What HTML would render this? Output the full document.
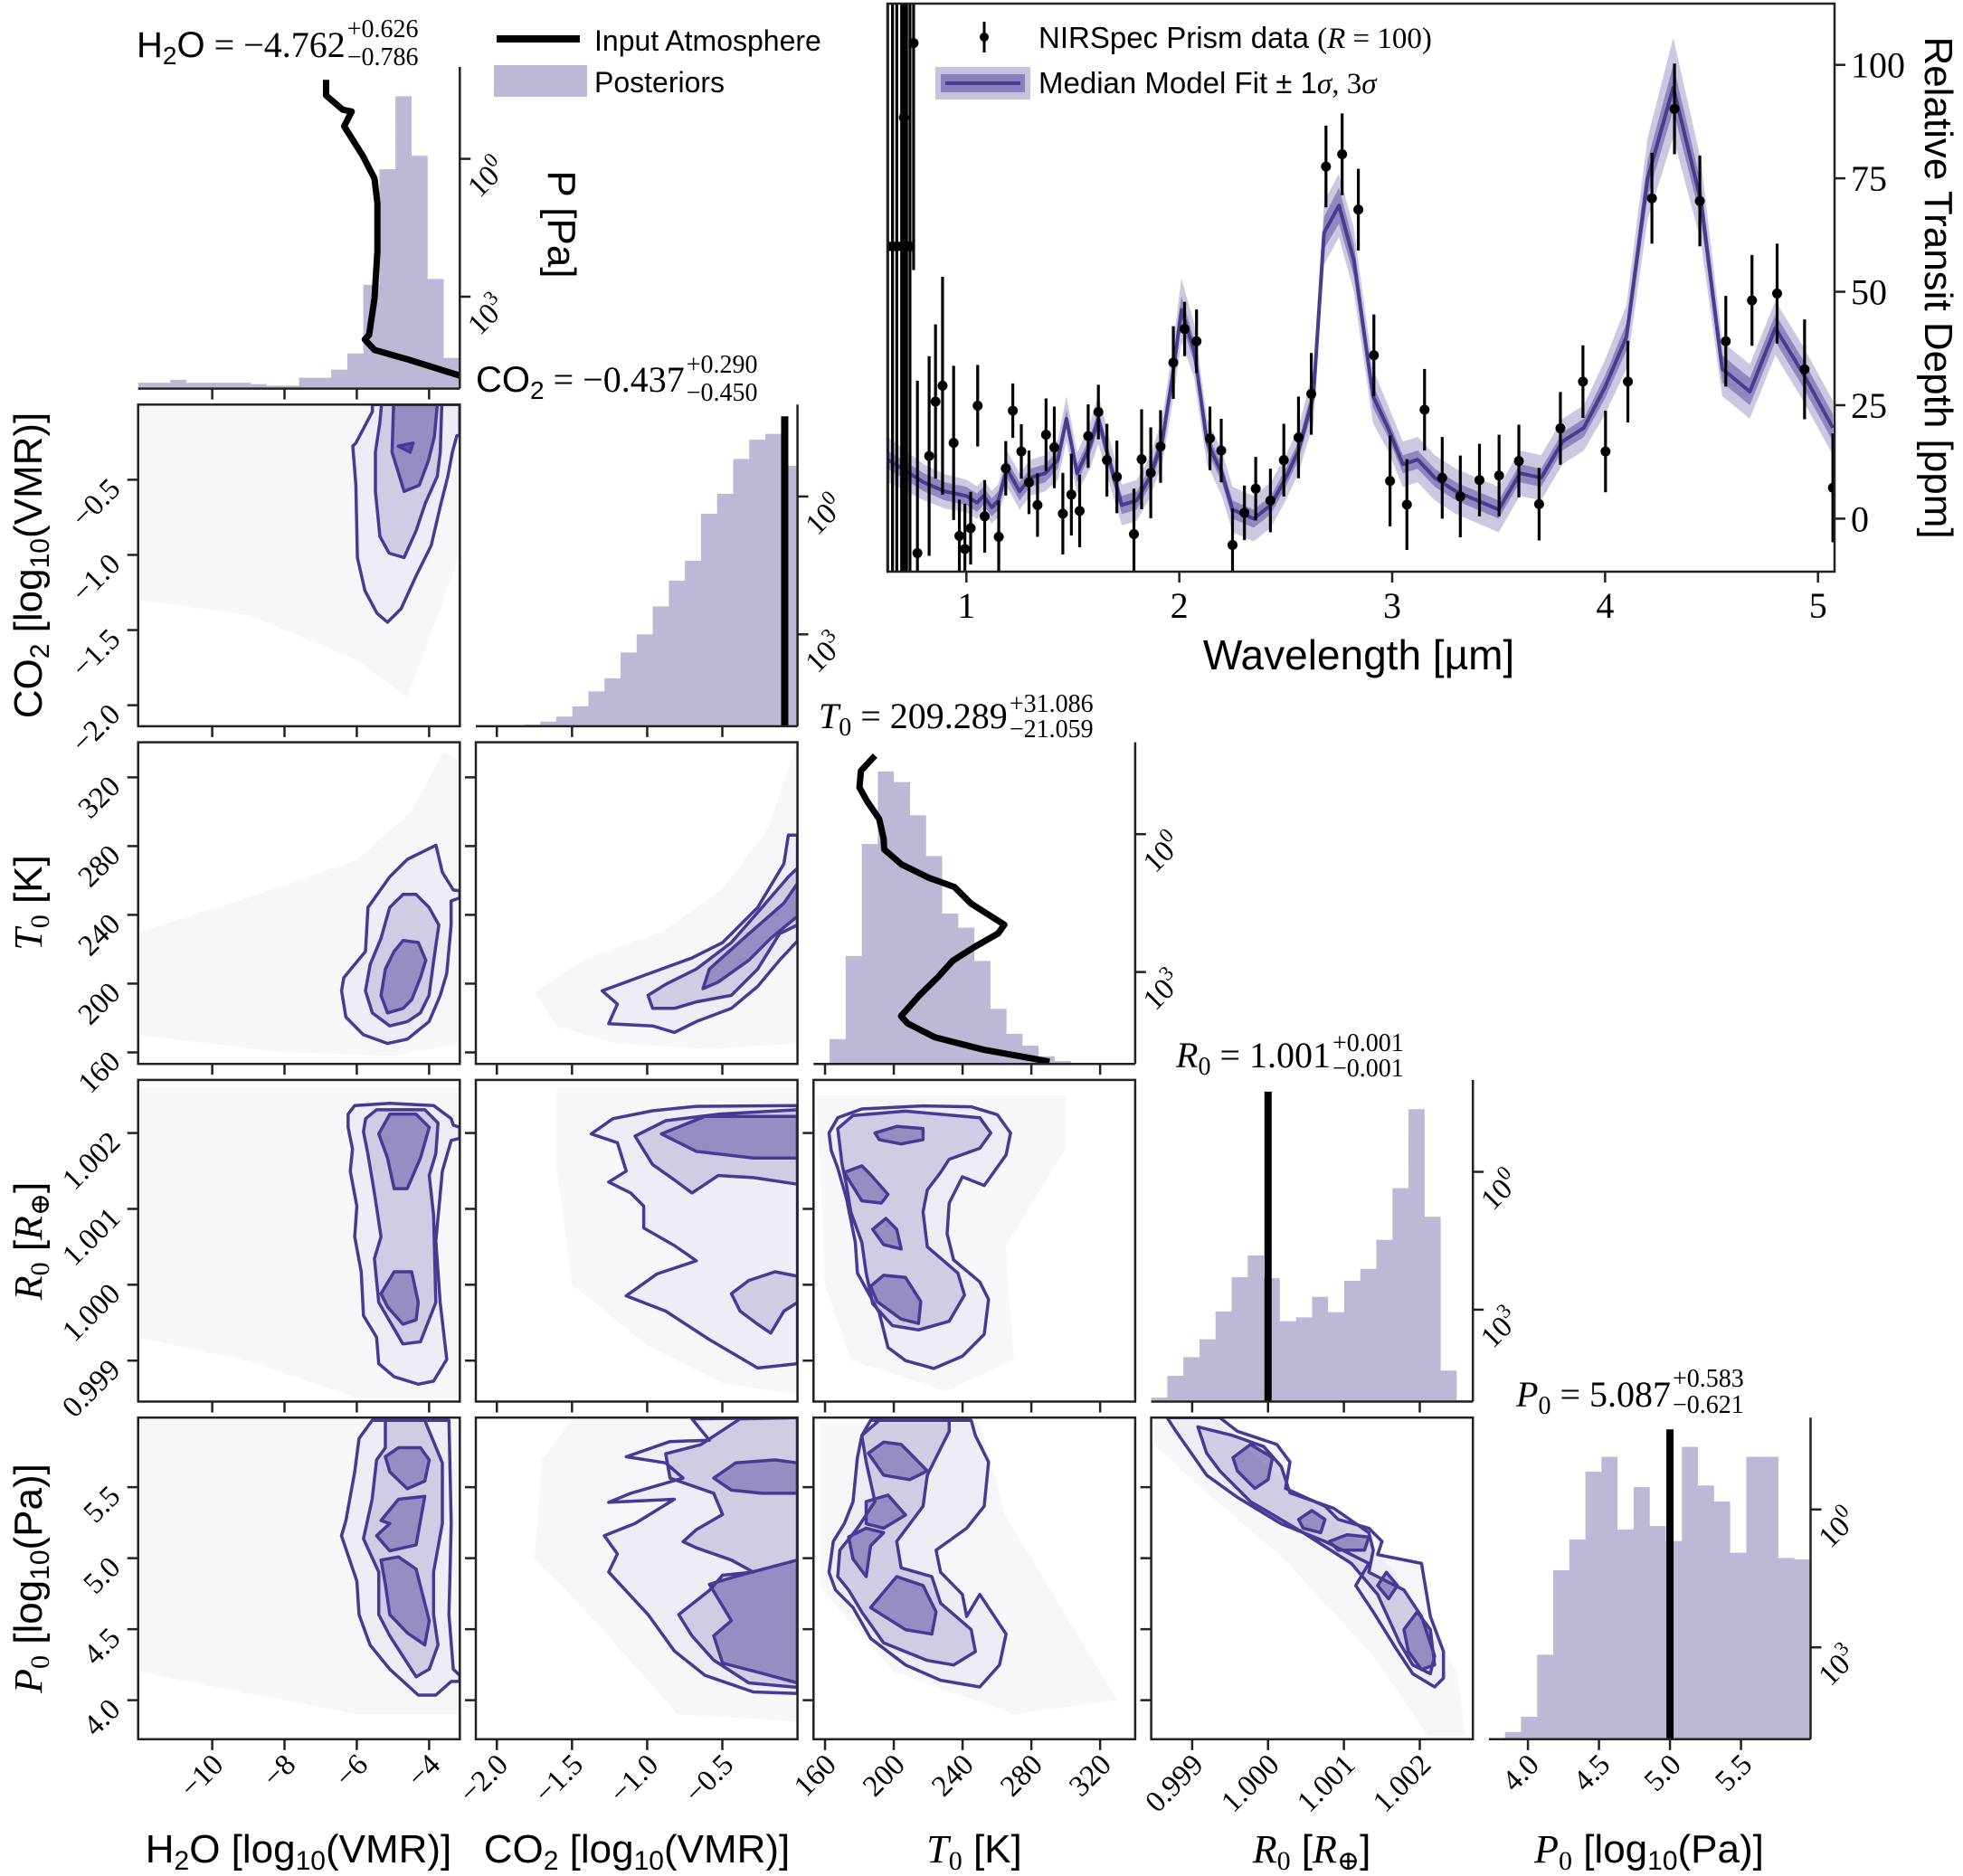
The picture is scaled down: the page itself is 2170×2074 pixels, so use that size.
<!DOCTYPE html>
<html><head><meta charset="utf-8">
<style>
html,body{margin:0;padding:0;background:#fff;}
svg{display:block;}
.sans{font-family:"Liberation Sans","DejaVu Sans",sans-serif;}
.serif{font-family:"Liberation Serif","DejaVu Serif",serif;}
</style></head>
<body>
<svg id="fig" xmlns="http://www.w3.org/2000/svg" width="2170" height="2074" viewBox="0 0 2170 2074">
<rect x="0" y="0" width="2170" height="2074" fill="#fff"/>
<g>
<line x1="549" y1="43" x2="641" y2="43" stroke="#000" stroke-width="8"/>
<text x="657" y="56" class="sans" font-size="32">Input Atmosphere</text>
<rect x="546" y="72" width="103" height="35" fill="#bcb8d6"/>
<text x="657" y="102" class="sans" font-size="32">Posteriors</text>
</g>
<text transform="translate(606,248) rotate(90)" text-anchor="middle" class="sans" font-size="44">P [Pa]</text>
<g>
<text id="main-h2o" x="151" y="63" font-size="40"><tspan class="sans">H<tspan font-size="28" dy="8">2</tspan><tspan dy="-8">O</tspan></tspan><tspan class="serif"> = −4.762</tspan></text>
<text id="sup-h2o" x="415" y="41" class="serif" font-size="28">+0.626</text><text id="sub-h2o" x="415" y="72" class="serif" font-size="28">−0.786</text></g>
<g>
<text id="main-co2" x="526" y="433" font-size="40"><tspan class="sans">CO<tspan font-size="28" dy="8">2</tspan></tspan><tspan class="serif" dy="-8"> = −0.437</tspan></text>
<text id="sup-co2" x="740" y="412" class="serif" font-size="28">+0.290</text><text id="sub-co2" x="740" y="443" class="serif" font-size="28">−0.450</text></g>
<g>
<text id="main-t0" x="905" y="805" font-size="40" class="serif"><tspan font-style="italic">T</tspan><tspan font-size="28" dy="8">0</tspan><tspan dy="-8"> = 209.289</tspan></text>
<text id="sup-t0" x="1140" y="787" class="serif" font-size="28">+31.086</text><text id="sub-t0" x="1140" y="815" class="serif" font-size="28">−21.059</text></g>
<g>
<text id="main-r0" x="1300" y="1180" font-size="40" class="serif"><tspan font-style="italic">R</tspan><tspan font-size="28" dy="8">0</tspan><tspan dy="-8"> = 1.001</tspan></text>
<text id="sup-r0" x="1502" y="1162" class="serif" font-size="28">+0.001</text><text id="sub-r0" x="1502" y="1190" class="serif" font-size="28">−0.001</text></g>
<g>
<text id="main-p0" x="1676" y="1555" font-size="40" class="serif"><tspan font-style="italic">P</tspan><tspan font-size="28" dy="8">0</tspan><tspan dy="-8"> = 5.087</tspan></text>
<text id="sup-p0" x="1873" y="1533" class="serif" font-size="28">+0.583</text><text id="sub-p0" x="1873" y="1562" class="serif" font-size="28">−0.621</text></g>
<text x="330" y="2059" text-anchor="middle" class="sans" font-size="44">H<tspan font-size="30" dy="8">2</tspan><tspan dy="-8">O [log</tspan><tspan font-size="30" dy="8">10</tspan><tspan dy="-8">(VMR)]</tspan></text>
<text x="704" y="2059" text-anchor="middle" class="sans" font-size="44">CO<tspan font-size="30" dy="8">2</tspan><tspan dy="-8"> [log</tspan><tspan font-size="30" dy="8">10</tspan><tspan dy="-8">(VMR)]</tspan></text>
<text x="1077" y="2059" text-anchor="middle" font-size="44"><tspan class="serif" font-style="italic">T</tspan><tspan class="serif" font-size="30" dy="8">0</tspan><tspan class="sans" dy="-8"> [K]</tspan></text>
<text x="1450" y="2059" text-anchor="middle" font-size="44"><tspan class="serif" font-style="italic">R</tspan><tspan class="serif" font-size="30" dy="8">0</tspan><tspan class="sans" dy="-8"> [</tspan><tspan class="serif" font-style="italic">R</tspan><tspan class="serif" font-size="30" dy="8">⊕</tspan><tspan class="sans" dy="-8">]</tspan></text>
<text x="1823" y="2059" text-anchor="middle" font-size="44"><tspan class="serif" font-style="italic">P</tspan><tspan class="serif" font-size="30" dy="8">0</tspan><tspan class="sans" dy="-8"> [log</tspan><tspan class="sans" font-size="30" dy="8">10</tspan><tspan class="sans" dy="-8">(Pa)]</tspan></text>
<text transform="translate(46,625) rotate(-90)" text-anchor="middle" class="sans" font-size="44">CO<tspan font-size="30" dy="8">2</tspan><tspan dy="-8"> [log</tspan><tspan font-size="30" dy="8">10</tspan><tspan dy="-8">(VMR)]</tspan></text>
<text transform="translate(46,998) rotate(-90)" text-anchor="middle" font-size="44"><tspan class="serif" font-style="italic">T</tspan><tspan class="serif" font-size="30" dy="8">0</tspan><tspan class="sans" dy="-8"> [K]</tspan></text>
<text transform="translate(46,1372) rotate(-90)" text-anchor="middle" font-size="44"><tspan class="serif" font-style="italic">R</tspan><tspan class="serif" font-size="30" dy="8">0</tspan><tspan class="sans" dy="-8"> [</tspan><tspan class="serif" font-style="italic">R</tspan><tspan class="serif" font-size="30" dy="8">⊕</tspan><tspan class="sans" dy="-8">]</tspan></text>
<text transform="translate(46,1745) rotate(-90)" text-anchor="middle" font-size="44"><tspan class="serif" font-style="italic">P</tspan><tspan class="serif" font-size="30" dy="8">0</tspan><tspan class="sans" dy="-8"> [log</tspan><tspan class="sans" font-size="30" dy="8">10</tspan><tspan class="sans" dy="-8">(Pa)]</tspan></text>
<text x="1502" y="740" text-anchor="middle" class="sans" font-size="46">Wavelength [µm]</text>
<text transform="translate(2128,318) rotate(90)" text-anchor="middle" class="sans" font-size="44">Relative Transit Depth [ppm]</text>
<g>
<line x1="1088" y1="24" x2="1088" y2="58" stroke="#000" stroke-width="3"/>
<circle cx="1088" cy="41" r="5" fill="#000"/>
<text x="1148" y="53" font-size="33"><tspan class="sans">NIRSpec Prism data </tspan><tspan class="serif">(<tspan font-style="italic">R</tspan> = 100)</tspan></text>
<rect x="1034" y="74" width="105" height="36" fill="#c7c3dd"/>
<rect x="1040" y="82" width="93" height="20" fill="#8a80bb"/>
<line x1="1045" y1="92" x2="1128" y2="92" stroke="#483c8f" stroke-width="4"/>
<text x="1148" y="103" font-size="33"><tspan class="sans">Median Model Fit ± 1</tspan><tspan class="serif" font-style="italic">σ</tspan><tspan class="serif">, 3</tspan><tspan class="serif" font-style="italic">σ</tspan></text>
</g>
</svg>
<script>
// ======================= DATA =======================
const specWl = [0.63,0.653,0.673,0.696,0.706,0.719,0.735,0.752,0.77,0.825,0.855,0.888,0.94,0.967,0.993,1.02,1.053,1.086,1.152,1.185,1.218,1.258,1.294,1.334,1.374,1.413,1.453,1.493,1.532,1.572,1.62,1.66,1.707,1.787,1.823,1.866,1.912,1.972,2.025,2.081,2.144,2.197,2.25,2.306,2.359,2.428,2.491,2.56,2.62,2.689,2.765,2.841,2.914,2.99,3.069,3.152,3.235,3.32,3.41,3.502,3.595,3.69,3.79,3.896,4.002,4.107,4.22,4.326,4.445,4.567,4.69,4.808,4.937,5.07];
const specDepth = [60,60,60,60,88.4,60,60,104.8,-7.6,13.8,25.8,29.3,16.7,-3.8,-6.7,-2.1,24.9,0.5,-4,11.1,23.8,14.8,8,3,18.5,15.7,1.1,5.3,1.7,18.2,23.5,12.9,9.2,-3.4,13.1,10.1,15.9,34.4,41.8,39.1,17.7,15,-5.8,1.3,6.6,4,12.9,17.9,27.5,77.6,80.3,68.1,36,8.3,3.1,24,9,4.9,8.5,9.5,12.7,3.2,19.9,30.2,14.8,30.2,70.6,90.3,70,39.1,48.1,49.6,32.9,6.8];
const specErr = [200,200,200,200,120,200,200,50,38,22,17,24,17,8,10,8,9,8,8,6,6,6,7,7,8,9,9,9,8,7,6,8,8,10,11,10,8,8,6,7,7,7,8,6,7,7,8,9,9,9,9,9,9,10,10,9,9,9,8,9,8,8,8,8,9,9,10,10,10,10,10,11,11,12];
const modelWl = [0.63,0.7,0.8,0.9,1.0,1.05,1.08,1.12,1.15,1.19,1.25,1.3,1.37,1.43,1.47,1.52,1.58,1.62,1.67,1.73,1.8,1.86,1.92,1.97,2.01,2.07,2.13,2.2,2.25,2.35,2.43,2.5,2.56,2.63,2.68,2.75,2.82,2.91,2.98,3.05,3.12,3.2,3.3,3.4,3.5,3.6,3.7,3.8,3.9,4.0,4.1,4.2,4.32,4.45,4.55,4.68,4.8,4.93,5.07];
const modelMed = [13,11,8,6,5,3.5,5,2.5,4,11,6,9,10,13,22,10,16,22,13,3,4,9,17,32,46,37,17,10,2,0,3,9,15,27,63,69,57,27,20,12,13,9,6,4,2,10,9,17,20,29,40,75,95,70,33,28,42,32,20];
const modelSig1 = [2,2,2,2,2,2,2,2,2,2,2,2,2,2,2,2,2,2,2,2,2,2,2,2.5,3,2.5,2,2,2,2,2,2,2,2.5,3.5,4,3.5,2.5,2,2,2,2,2,2,2,2,2,2,2,2.5,3,4,5,4,3,3,3,3,3];
const modelSig3 = [5,4.5,4,3.8,3.6,3.6,3.6,3.6,3.6,4,4,4,4,4.5,5,4.5,5,5.5,5,4.5,4.5,4.5,5,6,7,6,5,5,5,5,5,5,5,6,7,7,7,6,5,5,5,5,5,5,5,5,5,5,5,6,7,9,11,9,6,6,6,6,6];
const specXTicks = [1,2,3,4,5];
const specYTicks = [0,25,50,75,100];

const varNames = ['h2o','co2','t0','r0','p0'];
const varRanges = [[-12.05,-3.15],[-2.14,0.0],[153.3,340.4],[0.99846,1.0027],[3.725,5.99]];
const varTicks = [[-10,-8,-6,-4],[-2,-1.5,-1,-0.5],[160,200,240,280,320],[0.999,1.000,1.001,1.002],[4.0,4.5,5.0,5.5]];
const varTickLabels = [['−10','−8','−6','−4'],['−2.0','−1.5','−1.0','−0.5'],['160','200','240','280','320'],['0.999','1.000','1.001','1.002'],['4.0','4.5','5.0','5.5']];
const histH2O = [0.02,0.02,0.03,0.02,0.02,0.02,0.02,0.015,0.01,0.01,0.037,0.037,0.065,0.12,0.355,0.75,1.0,0.796,0.375,0.105];
const histCO2 = [0,0.002,0.004,0.006,0.016,0.033,0.068,0.119,0.164,0.252,0.314,0.41,0.498,0.566,0.727,0.795,0.914,0.98,1.0,0.891];
const histT0 = [0.003,0.085,0.369,0.752,1.0,0.964,0.85,0.711,0.514,0.466,0.352,0.188,0.103,0.062,0.026,0.01,0.003,0,0,0];
const histR0 = [0.0135,0.088,0.152,0.213,0.308,0.425,0.5,0.422,0.275,0.288,0.358,0.306,0.413,0.454,0.553,0.73,1.0,0.632,0.106,0.005];
const histP0 = [0,0.025,0.077,0.289,0.578,0.683,0.915,0.966,0.717,0.862,0.729,0.678,1.0,0.868,0.813,0.638,0.966,0.966,0.62,0.615];
const profH2OVal = [-6.85,-6.85,-6.39,-6.14,-6.35,-5.83,-5.51,-5.43,-5.43,-5.51,-5.66,-5.78,-5.51,-4.61,-3.14];
const profH2OLogP = [-1.72,-1.38,-1.07,-1.03,-0.71,-0.06,0.43,0.97,2.01,3.04,3.83,3.93,4.16,4.36,4.72];
const profT0Val = [189.1,180.9,180.0,184.4,191.5,194.1,194.4,204.6,220.4,235.3,244.9,264.3,260.7,246.7,234.4,225.7,215.1,204.2,208.1,223.9,252,290.6];
const profT0LogP = [-1.71,-1.38,-1.02,-0.72,-0.33,0.10,0.33,0.66,0.95,1.15,1.51,1.97,2.16,2.46,2.75,3.11,3.50,3.96,4.12,4.42,4.69,4.95];
const inputCO2 = -0.085;
const inputR0 = 1.0000;
const inputP0 = 5.0;

const cH2oCo2Cloud = [[-12.05,0],[-3.15,0],[-3.15,-1.0],[-4.6,-1.95],[-6,-1.7],[-9,-1.4],[-12.05,-1.3]];
const cH2oCo2L1 = [[-5.567,0],[-5.567,-0.046],[-6.026,-0.256],[-6.11,-0.276],[-6.026,-0.537],[-5.984,-1.018],[-5.776,-1.238],[-5.442,-1.388],[-5.15,-1.448],[-4.775,-1.358],[-4.357,-1.138],[-3.94,-0.937],[-3.69,-0.677],[-3.481,-0.477],[-3.356,-0.316],[-3.231,-0.206],[-3.15,-0.206],[-3.15,0]];
const cH2oCo2L2 = [[-5.317,0],[-5.359,-0.116],[-5.484,-0.316],[-5.484,-0.577],[-5.359,-0.877],[-5.108,-0.988],[-4.691,-1.018],[-4.357,-0.837],[-4.107,-0.657],[-3.773,-0.477],[-3.69,-0.316],[-3.648,0]];
const cH2oCo2L3 = [[-4.983,0],[-5.025,-0.316],[-4.691,-0.577],[-4.274,-0.537],[-4.024,-0.377],[-3.857,-0.216],[-3.773,0]];
const cH2oCo2L4 = [[-4.858,-0.276],[-4.441,-0.256],[-4.524,-0.316]];

const cH2oT0Cloud = [[-12.05,170],[-12.05,230],[-9,250],[-6,272],[-4.5,300],[-3.6,335],[-3.15,330],[-3.15,165],[-5,158],[-8,160],[-10,165]];
const cH2oT0L1 = [[-6.42,195.8],[-6.36,203.4],[-6.06,211.1],[-5.76,218.7],[-5.69,244.3],[-5.09,262.1],[-4.6,272.3],[-3.81,280.5],[-3.63,264.7],[-3.33,254.5],[-3.15,254],[-3.15,249.9],[-3.39,248.1],[-3.39,234.1],[-3.51,206],[-3.69,193.2],[-4.0,177.9],[-4.6,167.7],[-5.15,165.2],[-5.82,170.3],[-6.3,180.5]];
const cH2oT0L2 = [[-5.76,195.8],[-5.63,211.1],[-5.33,226.4],[-5.09,244.3],[-4.72,251.9],[-4.36,251.9],[-4.0,244.3],[-3.73,234.1],[-3.87,213.6],[-4.0,193.2],[-4.24,183],[-4.6,177.9],[-5.09,175.4],[-5.57,183]];
const cH2oT0L3 = [[-5.33,193.2],[-5.21,208.5],[-4.97,218.7],[-4.72,225.1],[-4.3,223.9],[-4.09,213.6],[-4.24,203.4],[-4.48,190.7],[-4.72,185.6],[-5.15,183]];

const cCo2T0Cloud = [[-1.75,195],[-1.4,215],[-0.9,230],[-0.5,255],[-0.2,290],[0,340],[0,165],[-0.6,162],[-1.2,165],[-1.6,175]];
const cCo2T0L1 = [[-1.299,195.8],[-1.023,204.7],[-0.702,214.9],[-0.498,223.9],[-0.265,244.3],[-0.09,269.8],[-0.061,286.4],[0,286.4],[0,224.8],[-0.12,213.6],[-0.265,198.4],[-0.44,185.6],[-0.673,177.9],[-0.819,171.6],[-0.964,175.4],[-1.256,176.7],[-1.198,188.1]];
const cCo2T0L2 = [[-0.994,193.2],[-0.877,199.6],[-0.673,208.5],[-0.44,223.9],[-0.236,244.3],[-0.061,262.1],[0,267.2],[0,234.1],[-0.12,229],[-0.265,208.5],[-0.44,193.2],[-0.673,189.4],[-0.819,185.6],[-0.964,185.6]];
const cCo2T0L3 = [[-0.629,197.1],[-0.586,208.5],[-0.324,229],[-0.09,246.8],[0,258.3],[0,239.2],[-0.178,226.4],[-0.324,213.6],[-0.527,200.9]];

const cH2oR0Cloud = [[-12.05,1.0026],[-3.15,1.0026],[-3.15,0.9985],[-6,0.9985],[-9,0.9990],[-12.05,0.9993]];
const cH2oR0L1 = [[-6.241,1.002248],[-6.059,1.002363],[-5.088,1.002392],[-3.875,1.002363],[-3.389,1.00219],[-3.329,1.002104],[-3.15,1.002075],[-3.15,1.001931],[-3.389,1.001902],[-3.632,1.001498],[-3.814,1.000575],[-3.693,0.999767],[-3.511,0.999017],[-3.875,0.998729],[-4.3,0.998689],[-4.967,0.998787],[-5.392,0.99896],[-5.452,0.999306],[-5.816,0.999594],[-5.877,1.000171],[-6.059,1.000633],[-5.998,1.001037],[-6.18,1.001498],[-6.119,1.001787],[-6.241,1.002075]];
const cH2oR0L2 = [[-5.756,1.00219],[-5.452,1.002306],[-4.117,1.002306],[-3.754,1.002133],[-3.814,1.001729],[-3.996,1.00144],[-3.875,1.000921],[-3.814,0.999767],[-4.239,0.999248],[-4.724,0.999219],[-5.392,0.999767],[-5.513,1.000344],[-5.331,1.000633],[-5.513,1.00121],[-5.695,1.001729],[-5.816,1.002017]];
const cH2oR0L3a = [[-5.392,1.001988],[-5.088,1.002248],[-4.36,1.002248],[-3.996,1.002075],[-4.239,1.001671],[-4.603,1.001267],[-4.967,1.001267],[-5.149,1.001671]];
const cH2oR0L3b = [[-5.331,0.999883],[-4.967,1.000171],[-4.482,1.000171],[-4.3,0.999767],[-4.36,0.999537],[-4.724,0.999479],[-5.149,0.99971]];

const cCo2R0Cloud = [[-1.6,1.0026],[0,1.0026],[0,0.99855],[-0.5,0.9987],[-1.0,0.9992],[-1.5,1.0],[-1.6,1.0015]];
const cCo2R0L1 = [[-1.372,1.001988],[-1.227,1.00219],[-0.964,1.002294],[-0.673,1.002352],[0,1.002363],[0,0.99896],[-0.265,0.998902],[-0.586,0.999277],[-0.877,0.999652],[-1.139,0.999854],[-0.935,1.000142],[-0.673,1.000315],[-0.819,1.000517],[-1.023,1.000748],[-1.023,1.001037],[-1.11,1.00121],[-1.256,1.001354],[-1.139,1.001498],[-1.198,1.001873]];
const cCo2R0L2 = [[-1.081,1.00196],[-0.877,1.002162],[-0.527,1.002248],[0,1.002306],[0,1.001325],[-0.294,1.001412],[-0.527,1.00144],[-0.702,1.001210],[-0.819,1.001383],[-0.964,1.001585]];
const cCo2R0L3 = [[-0.906,1.001988],[-0.615,1.002219],[0,1.002219],[0,1.001671],[-0.294,1.001671],[-0.673,1.001758]];
const cCo2R0L2b = [[-0.44,0.999883],[-0.324,1.000056],[-0.149,1.000171],[0,1.000113],[0,0.999767],[-0.09,0.999652],[-0.178,0.999363],[-0.265,0.999479],[-0.382,0.999652]];

const cT0R0Cloud = [[155,1.0025],[300,1.0025],[300,1.0018],[265,1.0005],[270,0.999],[230,0.9986],[175,0.999],[160,1.0]];
const cT0R0L1 = [[162.3,1.002],[167.4,1.002202],[181.4,1.002317],[217,1.002358],[245,1.002346],[260.2,1.002242],[267.9,1.002],[265.3,1.001712],[252.6,1.001308],[239.9,1.001423],[232.2,1.001077],[231,1.000673],[234.8,1.000327],[250,1.000038],[255.1,0.999807],[252.6,0.999346],[239.9,0.999057],[223.3,0.998896],[206.8,0.999],[196.6,0.999173],[191.5,0.999634],[178.8,1.000154],[177.6,1.000558],[172.5,1.001135],[167.4,1.001538],[163.6,1.001769]];
const cT0R0L2 = [[167.4,1.002058],[176.3,1.002231],[206.8,1.002289],[250,1.002202],[256.4,1.002],[250,1.001798],[232.2,1.001654],[227.2,1.00148],[219.5,1.00125],[217,1.000961],[219.5,1.0005],[237.3,1.000154],[241.1,0.999865],[232.2,0.999519],[214.4,0.999404],[199.2,0.999461],[187.7,0.99975],[183.9,1.000154],[181.4,1.000558],[175,1.000961],[172.5,1.001308],[169.9,1.001596]];
const cT0R0L3a = [[189,1.002],[201.7,1.002087],[217,1.002058],[217,1.001913],[204.3,1.001856],[191.5,1.001913]];
const cT0R0L3b = [[187.7,1.00073],[195.4,1.000875],[201.7,1.00073],[204.3,1.000471],[194.1,1.000529]];
const cT0R0L3c = [[186.5,0.99998],[194.1,1.000125],[206.8,1.000096],[215.7,0.999779],[214.4,0.99949],[204.3,0.999548],[190.3,0.999779]];
const cT0R0L3d = [[171.2,1.00148],[181.4,1.001567],[186.5,1.001452],[196.6,1.001192],[192.8,1.001077],[181.4,1.001106]];

const cH2oP0Cloud = [[-12.05,5.97],[-3.15,5.97],[-3.15,3.9],[-6,3.9],[-12.05,4.2]];
const cH2oP0L1 = [[-5.574,5.97],[-5.938,5.842],[-6.059,5.607],[-6.302,5.265],[-6.423,5.158],[-5.998,4.838],[-5.938,4.603],[-5.634,4.389],[-5.088,4.218],[-4.3,4.036],[-3.814,4.036],[-3.389,4.132],[-3.15,4.132],[-3.15,4.175],[-3.329,4.218],[-3.45,4.603],[-3.389,5.244],[-3.45,5.97]];
const cH2oP0L2 = [[-5.21,5.97],[-5.21,5.778],[-5.452,5.692],[-5.574,5.415],[-5.816,5.137],[-5.392,4.902],[-5.392,4.603],[-5.088,4.453],[-4.36,4.165],[-3.996,4.218],[-3.754,4.389],[-3.875,4.603],[-3.875,4.902],[-3.632,5.244],[-3.632,5.671],[-4.118,5.97]];
const cH2oP0L3a = [[-5.21,5.714],[-4.846,5.778],[-4.239,5.778],[-3.996,5.692],[-4.118,5.543],[-4.603,5.489],[-5.088,5.607]];
const cH2oP0L3b = [[-5.331,5.265],[-4.846,5.415],[-4.118,5.436],[-4.239,5.265],[-4.36,5.094],[-5.088,5.051],[-5.452,5.158],[-5.088,5.244]];
const cH2oP0L3c = [[-5.331,4.987],[-4.846,5.009],[-4.36,4.923],[-3.996,4.56],[-4.118,4.389],[-4.603,4.474],[-5.088,4.603],[-5.21,4.816]];

const cCo2P0Cloud = [[-1.75,5.0],[-1.7,5.7],[-1.5,5.97],[0,5.97],[0,3.85],[-0.8,3.9],[-1.3,4.5]];
const cCo2P0L1 = [[-1.139,5.714],[-0.848,5.821],[-0.586,5.831],[-0.702,5.981],[0,5.99],[0,4.047],[-0.294,4.058],[-0.615,4.175],[-0.819,4.346],[-0.994,4.603],[-1.256,4.902],[-1.198,5.03],[-1.285,5.158],[-1.081,5.244],[-0.819,5.415],[-1.256,5.393],[-1.11,5.457],[-0.761,5.564],[-0.877,5.671]];
const cCo2P0L2 = [[-0.877,5.735],[-0.644,5.799],[-0.382,5.981],[0,5.99],[0,4.09],[-0.324,4.122],[-0.557,4.282],[-0.702,4.453],[-0.79,4.603],[-0.586,4.773],[-0.498,4.88],[-0.294,4.902],[-0.44,4.987],[-0.673,5.073],[-0.761,5.116],[-0.673,5.201],[-0.498,5.308],[-0.557,5.457],[-0.848,5.564]];
const cCo2P0L3a = [[-0.557,5.564],[-0.411,5.671],[-0.149,5.692],[0,5.671],[0,5.457],[-0.236,5.457],[-0.44,5.479]];
const cCo2P0L3b = [[-0.586,4.816],[-0.382,4.88],[0,4.987],[0,4.122],[-0.265,4.197],[-0.498,4.261],[-0.557,4.453],[-0.44,4.56]];

const cT0P0Cloud = [[157,5.95],[250,5.95],[265,5.3],[300,4.6],[330,4.0],[270,3.9],[200,4.2],[157,4.8]];
const cT0P0L1 = [[186.5,5.97],[245,5.97],[247.5,5.863],[255.1,5.677],[252.6,5.366],[242.4,5.211],[224.6,5.056],[227.2,4.901],[239.9,4.745],[242.4,4.59],[250,4.745],[265.3,4.466],[261.5,4.248],[250,4.093],[227.2,4.14],[206.8,4.248],[186.5,4.435],[176.3,4.652],[166.1,4.776],[162.3,4.901],[164.8,5.118],[171.2,5.242],[176.3,5.398],[178.8,5.708],[181.4,5.863]];
const cT0P0L2 = [[191.5,5.97],[232.2,5.97],[232.2,5.894],[219.5,5.584],[217,5.366],[201.7,5.118],[204.3,4.932],[222.1,4.87],[227.2,4.683],[245,4.497],[247.5,4.342],[234.8,4.248],[219.5,4.28],[194.1,4.404],[181.4,4.621],[173.7,4.776],[167.4,4.87],[168.6,5.056],[178.8,5.211],[189,5.398],[183.9,5.677],[181.4,5.863]];
const cT0P0L3a = [[185.2,5.739],[194.1,5.817],[204.3,5.801],[219.5,5.615],[209.3,5.553],[194.1,5.584]];
const cT0P0L3b = [[173.7,5.149],[183.9,5.211],[194.1,5.18],[186.5,5.087],[183.9,4.87],[176.3,4.994]];
const cT0P0L3c = [[186.5,4.652],[201.7,4.87],[217,4.807],[224.6,4.621],[222.1,4.466],[206.8,4.497]];
const cT0P0L3d = [[183.9,5.398],[196.6,5.444],[206.8,5.304],[194.1,5.211],[183.9,5.242]];

const cR0P0Cloud = [[0.9985,5.99],[0.9993,5.99],[1.0004,5.45],[1.0016,4.95],[1.0025,4.2],[1.0026,3.75],[1.0021,3.75],[1.0014,4.3],[1.0002,5.0],[0.9991,5.5],[0.9985,5.8]];
const cR0P0L1 = [[0.99867,5.99],[0.999364,5.99],[0.999595,5.894],[1.000116,5.801],[1.000289,5.677],[1.000231,5.491],[1.000751,5.366],[1.000925,5.273],[1.001329,5.211],[1.001503,5.118],[1.001445,5.025],[1.002023,4.963],[1.002139,4.59],[1.002312,4.342],[1.002312,4.155],[1.002196,4.093],[1.001907,4.186],[1.001676,4.373],[1.001387,4.621],[1.001156,4.807],[1.001329,4.963],[1.000751,5.118],[1.000173,5.242],[0.999595,5.429],[0.999191,5.584],[0.998786,5.894]];
const cR0P0L2 = [[0.999075,5.925],[0.999538,5.863],[0.999942,5.786],[1.000173,5.646],[1.000289,5.46],[1.000867,5.351],[1.001329,5.18],[1.001387,5.056],[1.001329,4.901],[1.001792,4.776],[1.002023,4.59],[1.002196,4.311],[1.002139,4.186],[1.001907,4.248],[1.001734,4.404],[1.001445,4.745],[1.001098,4.963],[1.000462,5.18],[0.999769,5.398],[0.999364,5.615],[0.999191,5.739]];
const cR0P0L3a = [[0.999538,5.708],[0.999769,5.801],[1.000058,5.708],[1.0,5.553],[0.999827,5.491],[0.999595,5.615]];
const cR0P0L3b = [[1.000404,5.273],[1.000578,5.335],[1.000751,5.273],[1.000694,5.18],[1.000462,5.211]];
const cR0P0L3c = [[1.000809,5.118],[1.00104,5.165],[1.001329,5.149],[1.001271,5.056],[1.000925,5.056]];
const cR0P0L3d = [[1.001445,4.807],[1.00156,4.901],[1.001705,4.807],[1.001589,4.714]];
const cR0P0L3e = [[1.001792,4.497],[1.001965,4.621],[1.002139,4.497],[1.002196,4.248],[1.002023,4.217],[1.00185,4.342]];

// ======================= RENDER =======================
const NS = 'http://www.w3.org/2000/svg';
const svg = document.getElementById('fig');
function mk(tag, attrs, parent) {
  const e = document.createElementNS(NS, tag);
  for (const k in attrs) e.setAttribute(k, attrs[k]);
  (parent || svg).appendChild(e);
  return e;
}
// place title super/subscripts right after main text
['h2o','co2','t0','r0','p0'].forEach(n => {
  const m = document.getElementById('main-' + n);
  let w = 0;
  try { w = m.getComputedTextLength(); } catch (e) { w = 0; }
  if (w > 0) {
    const x = parseFloat(m.getAttribute('x')) + w + 2;
    document.getElementById('sup-' + n).setAttribute('x', x);
    document.getElementById('sub-' + n).setAttribute('x', x);
  }
});
const PURPLE = '#463a94';
const HISTFILL = '#bcb8d6';
const colX0 = 152.7, rowY0 = 74, STEP = 373.3, PW = 355.6, PH = 355.6;
function panelX(i) { return colX0 + STEP * i; }
function panelY(j) { return rowY0 + STEP * j; }
function sx(vi, col, v) { const r = varRanges[vi]; return panelX(col) + (v - r[0]) / (r[1] - r[0]) * PW; }
function sy(vi, row, v) { const r = varRanges[vi]; return panelY(row) + PH - (v - r[0]) / (r[1] - r[0]) * PH; }
function syLogP(row, lp) { return panelY(row) + (lp + 2) / 7 * PH; }

const hists = [histH2O, histCO2, histT0, histR0, histP0];
for (let d = 0; d < 5; d++) {
  const g = mk('g', {});
  
  
  const r = varRanges[d], n = hists[d].length, bw = (r[1] - r[0]) / n;
  const base = panelY(d) + PH, maxH = PH / 1.1;
  let path = 'M' + sx(d, d, r[0]) + ',' + base;
  for (let b = 0; b < n; b++) {
    const yTop = base - hists[d][b] * maxH;
    path += ' L' + sx(d, d, r[0] + b * bw) + ',' + yTop + ' L' + sx(d, d, r[0] + (b + 1) * bw) + ',' + yTop;
  }
  path += ' L' + sx(d, d, r[1]) + ',' + base + ' Z';
  const p = mk('path', { d: path, fill: HISTFILL }, g);
  
  
}
function profile(vals, lps, vi, name) {
  let pts = vals.map((v, k) => sx(vi, vi, v) + ',' + syLogP(vi, lps[k])).join(' ');
  const pl = mk('polyline', { points: pts, fill: 'none', stroke: '#000', 'stroke-width': 7, 'stroke-linejoin': 'round' });
  
  
}
profile(profH2OVal, profH2OLogP, 0, 'input-profile-h2o');
profile(profT0Val, profT0LogP, 2, 'input-profile-t0');
function vline(vi, v, name) {
  const x = sx(vi, vi, v);
  const ln = mk('line', { x1: x, x2: x, y1: panelY(vi) + PH, y2: panelY(vi) + 13, stroke: '#000', 'stroke-width': 8 });
  
  
}
vline(1, inputCO2, 'input-value-co2');
vline(3, inputR0, 'input-value-r0');
vline(4, inputP0, 'input-value-p0');

function poly(pts, xi, yi, col, row, fill, stroke, parent, name) {
  const s = pts.map(p => sx(xi, col, p[0]).toFixed(1) + ',' + sy(yi, row, p[1]).toFixed(1)).join(' ');
  const e = mk('polygon', { points: s, fill: fill, stroke: stroke, 'stroke-width': stroke === 'none' ? 0 : 3.5, 'stroke-linejoin': 'round' }, parent);
  
  
}
const panels = [
  { xi: 0, yi: 1, cloud: cH2oCo2Cloud, levels: [[cH2oCo2L1], [cH2oCo2L2], [cH2oCo2L3], [cH2oCo2L4]] },
  { xi: 0, yi: 2, cloud: cH2oT0Cloud, levels: [[cH2oT0L1], [cH2oT0L2], [cH2oT0L3]] },
  { xi: 1, yi: 2, cloud: cCo2T0Cloud, levels: [[cCo2T0L1], [cCo2T0L2], [cCo2T0L3]] },
  { xi: 0, yi: 3, cloud: cH2oR0Cloud, levels: [[cH2oR0L1], [cH2oR0L2], [cH2oR0L3a, cH2oR0L3b]] },
  { xi: 1, yi: 3, cloud: cCo2R0Cloud, levels: [[cCo2R0L1], [cCo2R0L2, cCo2R0L2b], [cCo2R0L3]] },
  { xi: 2, yi: 3, cloud: cT0R0Cloud, levels: [[cT0R0L1], [cT0R0L2], [cT0R0L3a, cT0R0L3b, cT0R0L3c, cT0R0L3d]] },
  { xi: 0, yi: 4, cloud: cH2oP0Cloud, levels: [[cH2oP0L1], [cH2oP0L2], [cH2oP0L3a, cH2oP0L3b, cH2oP0L3c]] },
  { xi: 1, yi: 4, cloud: cCo2P0Cloud, levels: [[cCo2P0L1], [cCo2P0L2], [cCo2P0L3a, cCo2P0L3b]] },
  { xi: 2, yi: 4, cloud: cT0P0Cloud, levels: [[cT0P0L1], [cT0P0L2], [cT0P0L3a, cT0P0L3b, cT0P0L3c, cT0P0L3d]] },
  { xi: 3, yi: 4, cloud: cR0P0Cloud, levels: [[cR0P0L1], [cR0P0L2], [cR0P0L3a, cR0P0L3b, cR0P0L3c, cR0P0L3d, cR0P0L3e]] }
];
const levelFills = ['rgba(70,58,148,0.05)', 'rgba(70,58,148,0.18)', 'rgba(70,58,148,0.42)', 'rgba(70,58,148,0.7)'];
const defs = mk('defs', {});
panels.forEach((P) => {
  const col = P.xi, row = P.yi;
  const cid = 'clip-' + varNames[col] + '-' + varNames[row];
  const cp = mk('clipPath', { id: cid }, defs);
  mk('rect', { x: panelX(col), y: panelY(row), width: PW, height: PH }, cp);
  const g = mk('g', { 'clip-path': 'url(#' + cid + ')' });
  
  
  poly(P.cloud, col, row, col, row, 'rgba(70,58,148,0.045)', 'none', g, 'sample-cloud');
  P.levels.forEach((lev, li) => {
    lev.forEach(c => poly(c, col, row, col, row, levelFills[li], PURPLE, g, 'contour-level-' + (li + 1)));
  });
  const fr = mk('rect', { x: panelX(col), y: panelY(row), width: PW, height: PH, fill: 'none', stroke: '#222', 'stroke-width': 2.5 });
  
  
});

for (let col = 0; col < 5; col++) {
  for (let row = col; row < 5; row++) {
    const bottom = panelY(row) + PH;
    varTicks[col].forEach((t, k) => {
      const x = sx(col, col, t);
      const tk = mk('line', { x1: x, x2: x, y1: bottom, y2: bottom + 12, stroke: '#222', 'stroke-width': 2.5 });
      
      
      if (row === 4) {
        const tl = mk('text', { x: x + 14, y: bottom + 30, 'text-anchor': 'end', 'font-size': 33, class: 'serif', transform: 'rotate(-45 ' + (x + 14) + ' ' + (bottom + 30) + ')' });
        tl.textContent = varTickLabels[col][k];
        
        
      }
    });
    if (row !== col) {
      varTicks[row].forEach((t, k) => {
        const y = sy(row, row, t);
        const tk = mk('line', { x1: panelX(col) - 12, x2: panelX(col), y1: y, y2: y, stroke: '#222', 'stroke-width': 2.5 });
        
        
        if (col === 0) {
          const lx = panelX(0) - 18, ly = y + 12;
          const tl = mk('text', { x: lx, y: ly, 'text-anchor': 'end', 'font-size': 33, class: 'serif', transform: 'rotate(-45 ' + lx + ' ' + ly + ')' });
          tl.textContent = varTickLabels[row][k];
          
          
        }
      });
    } else {
      const sp = mk('line', { x1: panelX(col), x2: panelX(col) + PW, y1: bottom, y2: bottom, stroke: '#222', 'stroke-width': 2.5 });
      
      
      const rx = panelX(col) + PW;
      const rs = mk('line', { x1: rx, x2: rx, y1: panelY(row), y2: bottom, stroke: '#222', 'stroke-width': 2.5 });
      
      
      [0, 3].forEach(lp => {
        const y = syLogP(row, lp);
        const tk = mk('line', { x1: rx, x2: rx + 12, y1: y, y2: y, stroke: '#222', 'stroke-width': 2.5 });
        
        
        const lx = rx + 22, ly = y + 44;
        const tl = mk('text', { x: lx, y: ly, 'font-size': 33, class: 'serif', transform: 'rotate(-45 ' + lx + ' ' + ly + ')' });
        
        
        tl.appendChild(document.createTextNode('10'));
        const sup = mk('tspan', { 'font-size': 23, dy: -14 }, tl);
        sup.textContent = String(lp);
      });
    }
  }
}

const SX0 = 981, SX1 = 2028, SY0 = 4, SY1 = 632;
function wx(l) { return 1068.3 + (l - 1) * 235.35; }
function dy(v) { return 573.4 - v * 5.017; }
const scp = mk('clipPath', { id: 'specclip' }, defs);
mk('rect', { x: SX0, y: SY0, width: SX1 - SX0, height: SY1 - SY0 }, scp);
const sg = mk('g', { 'clip-path': 'url(#specclip)' });


function band(sig, fill, name) {
  const up = modelWl.map((l, k) => wx(l).toFixed(1) + ',' + dy(modelMed[k] + sig[k]).toFixed(1));
  const dn = modelWl.map((l, k) => wx(l).toFixed(1) + ',' + dy(modelMed[k] - sig[k]).toFixed(1)).reverse();
  const e = mk('polygon', { points: up.concat(dn).join(' '), fill: fill }, sg);
  
  
}
band(modelSig3, 'rgba(70,58,148,0.28)', 'model-band-3sigma');
band(modelSig1, 'rgba(70,58,148,0.45)', 'model-band-1sigma');
const ml = mk('polyline', { points: modelWl.map((l, k) => wx(l).toFixed(1) + ',' + dy(modelMed[k]).toFixed(1)).join(' '), fill: 'none', stroke: '#483c8f', 'stroke-width': 4, 'stroke-linejoin': 'round' }, sg);


specWl.forEach((l, k) => {
  const x = wx(l);
  const eb = mk('line', { x1: x, x2: x, y1: dy(specDepth[k] + specErr[k]), y2: dy(specDepth[k] - specErr[k]), stroke: '#000', 'stroke-width': 3.2 }, sg);
  
  
  const pt = mk('circle', { cx: x, cy: dy(specDepth[k]), r: 5.5, fill: '#000' }, sg);
  
  
});
const sf = mk('rect', { x: SX0, y: SY0, width: SX1 - SX0, height: SY1 - SY0, fill: 'none', stroke: '#222', 'stroke-width': 2.5 });


specXTicks.forEach(t => {
  const x = wx(t);
  const tk = mk('line', { x1: x, x2: x, y1: SY1, y2: SY1 + 12, stroke: '#222', 'stroke-width': 2.5 });
  
  
  const tl = mk('text', { x: x, y: 683, 'text-anchor': 'middle', 'font-size': 40, class: 'serif' });
  tl.textContent = String(t);
  
  
});
specYTicks.forEach(t => {
  const y = dy(t);
  const tk = mk('line', { x1: SX1, x2: SX1 + 12, y1: y, y2: y, stroke: '#222', 'stroke-width': 2.5 });
  
  
  const tl = mk('text', { x: SX1 + 18, y: y + 14, 'font-size': 40, class: 'serif' });
  tl.textContent = String(t);
  
  
});
</script>
</body></html>
